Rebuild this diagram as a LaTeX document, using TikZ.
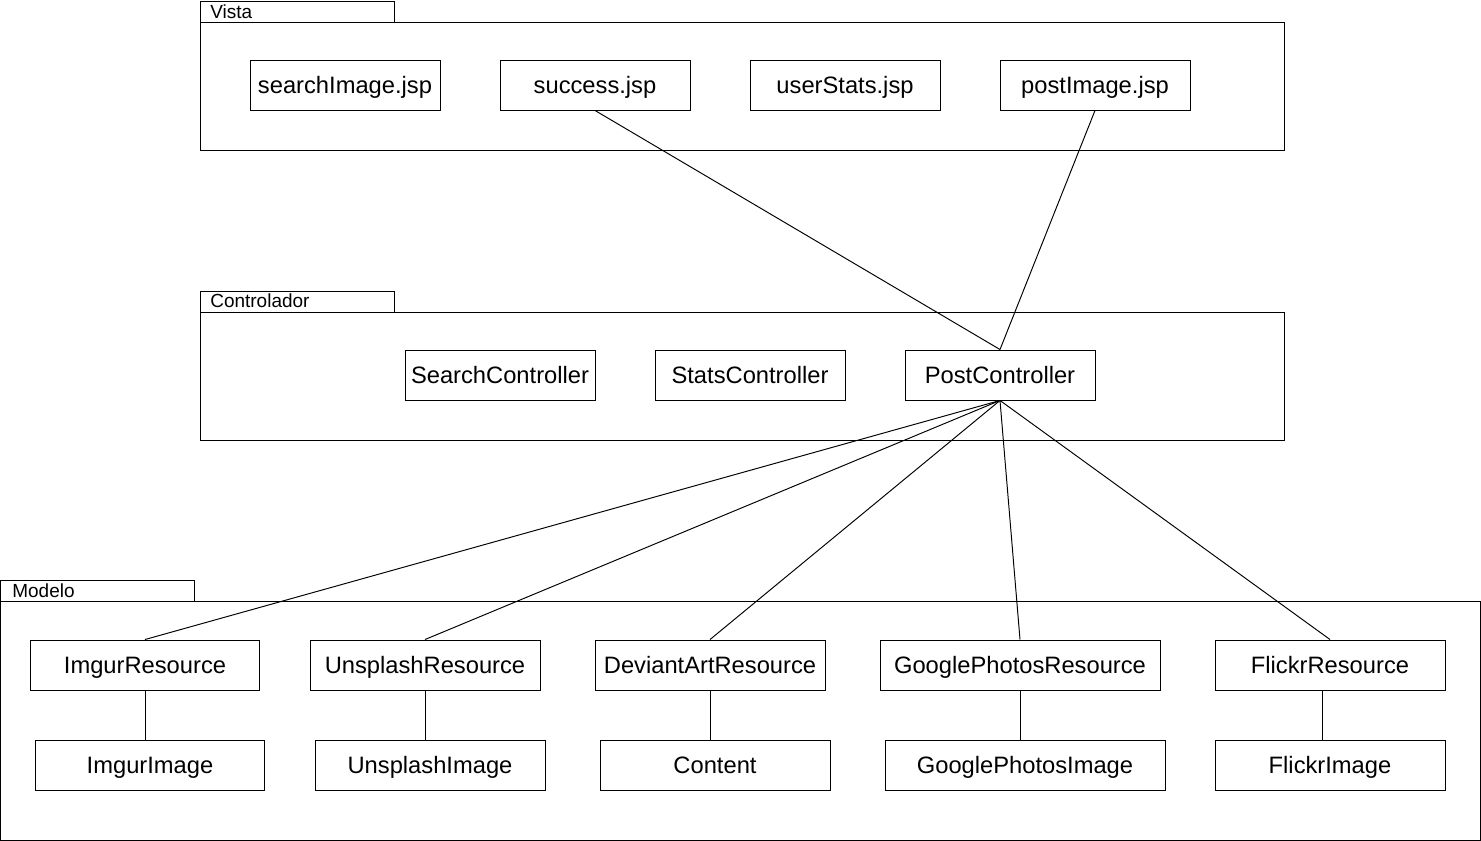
\documentclass[tikz,border=0pt]{standalone}
\usepackage{fontspec}
\setmainfont{Liberation Sans}
\usetikzlibrary{positioning}

\tikzset{
  cls/.style={draw, line width=0.55pt, minimum height=1cm, inner sep=0pt,
    text height=9.7pt, text depth=0pt,
    font=\fontsize{13.5pt}{16pt}\selectfont},
  pkgtab/.style={anchor=west, inner sep=0pt, text height=7.7pt, text depth=0pt,
    font=\fontsize{10.8pt}{12pt}\selectfont},
  link/.style={line width=0.55pt}
}

\begin{document}
\begin{tikzpicture}[x=0.02cm, y=-0.02cm]
  \useasboundingbox (0,0) rectangle (1481,841);

  % Packages
  \draw[link] (200,1) rectangle (394,22);
  \draw[link] (200,22) rectangle (1284,150);
  \node[pkgtab] (vista) at (210,11.5) {Vista};

  \draw[link] (200,291) rectangle (394,312);
  \draw[link] (200,312) rectangle (1284,440);
  \node[pkgtab] (controlador) at (210,300.5) {Controlador};

  \draw[link] (0.5,580) rectangle (194,601);
  \draw[link] (0.5,601) rectangle (1480,840);
  \node[pkgtab] (modelo) at (12,590.5) {Modelo};

  % Vista
  \node[cls, minimum width=3.8cm] (searchImage) at (345,85) {searchImage.jsp};
  \node[cls, minimum width=3.8cm] (success) at (595,85) {success.jsp};
  \node[cls, minimum width=3.8cm] (userStats) at (845,85) {userStats.jsp};
  \node[cls, minimum width=3.8cm] (postImage) at (1095,85) {postImage.jsp};

  % Controlador
  \node[cls, minimum width=3.8cm] (searchCtrl) at (500,375) {SearchController};
  \node[cls, minimum width=3.8cm] (statsCtrl) at (750,375) {StatsController};
  \node[cls, minimum width=3.8cm] (postCtrl) at (1000,375) {PostController};

  % Modelo
  \node[cls, minimum width=4.6cm] (imgurRes) at (145,665) {ImgurResource};
  \node[cls, minimum width=4.6cm] (unsplashRes) at (425,665) {UnsplashResource};
  \node[cls, minimum width=4.6cm] (deviantRes) at (710,665) {DeviantArtResource};
  \node[cls, minimum width=5.6cm] (googleRes) at (1020,665) {GooglePhotosResource};
  \node[cls, minimum width=4.6cm] (flickrRes) at (1330,665) {FlickrResource};

  \node[cls, minimum width=4.6cm] (imgurImg) at (150,765) {ImgurImage};
  \node[cls, minimum width=4.6cm] (unsplashImg) at (430,765) {UnsplashImage};
  \node[cls, minimum width=4.6cm] (content) at (715,765) {Content};
  \node[cls, minimum width=5.6cm] (googleImg) at (1025,765) {GooglePhotosImage};
  \node[cls, minimum width=4.6cm] (flickrImg) at (1330,765) {FlickrImage};

  % Connectors
  \draw[link] (success.south) -- (postCtrl.north);
  \draw[link] (postImage.south) -- (postCtrl.north);

  \foreach \res in {imgurRes, unsplashRes, deviantRes, googleRes, flickrRes}
    \draw[link] (postCtrl.south) -- (\res.north);

  \foreach \res/\img in {imgurRes/imgurImg, unsplashRes/unsplashImg,
                         deviantRes/content, googleRes/googleImg}
    \draw[link] (\res.south) -- (\res.south |- \img.north);

  \coordinate (flickrTop) at ([xshift=-8*0.02cm]flickrRes.south);
  \draw[link] (flickrTop) -- (flickrTop |- flickrImg.north);
\end{tikzpicture}
\end{document}
